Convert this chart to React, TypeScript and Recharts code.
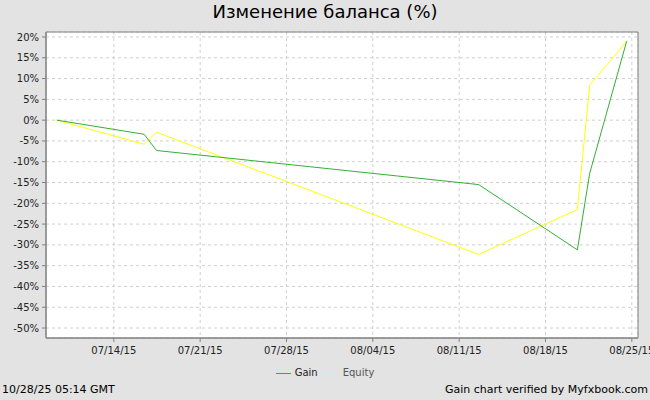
import { LineChart, Line, XAxis, YAxis, CartesianGrid, ReferenceArea } from "recharts";

const dates = [
  "2015-07-09T09:00:00Z",
  "2015-07-16T11:00:00Z",
  "2015-07-17T11:00:00Z",
  "2015-08-12T14:00:00Z",
  "2015-08-20T14:00:00Z",
  "2015-08-21T14:00:00Z",
  "2015-08-24T14:00:00Z",
];
const gain = [0, -3.4, -7.3, -15.5, -31.2, -12.8, 19];
const equity = [0, -5.8, -2.9, -32.3, -21.5, 8.4, 19];

const xTickDates = [
  "2015-07-14T00:00:00Z",
  "2015-07-21T00:00:00Z",
  "2015-07-28T00:00:00Z",
  "2015-08-04T00:00:00Z",
  "2015-08-11T00:00:00Z",
  "2015-08-18T00:00:00Z",
  "2015-08-25T00:00:00Z",
];
const yTicks = [-50, -45, -40, -35, -30, -25, -20, -15, -10, -5, 0, 5, 10, 15, 20];

const xMin = Date.parse("2015-07-08T12:00:00Z");
const xMax = Date.parse("2015-08-25T12:00:00Z");
const yMin = -52.4;
const yMax = 21.2;

const data = dates.map((d, i) => ({ t: Date.parse(d), gain: gain[i], equity: equity[i] }));
const xTicks = xTickDates.map((d) => Date.parse(d));

const font = "'DejaVu Sans', sans-serif";
const green = "#33b033";
const yellow = "#ffff00";

function fmtDate(v: number) {
  const d = new Date(v);
  const mm = String(d.getUTCMonth() + 1).padStart(2, "0");
  const dd = String(d.getUTCDate()).padStart(2, "0");
  const yy = String(d.getUTCFullYear() % 100).padStart(2, "0");
  return `${mm}/${dd}/${yy}`;
}

export default function App() {
  return (
    <div
      style={{
        position: "fixed",
        left: 0,
        top: 0,
        width: 650,
        height: 400,
        background: "#e3e3e3",
        fontFamily: font,
        overflow: "hidden",
      }}
    >
      <div
        style={{
          position: "absolute",
          top: 0,
          left: 0,
          width: 650,
          textAlign: "center",
          fontSize: 18,
          lineHeight: "24px",
          color: "#000",
        }}
      >
        Изменение баланса (%)
      </div>

      <LineChart width={650} height={400} data={data} margin={{ top: 32, right: 12, bottom: 32, left: 0 }}>
        <CartesianGrid fill="#ffffff" stroke="#cfcfcf" strokeDasharray="3 3" />
        <ReferenceArea
          x1={xMin}
          x2={xMax}
          y1={yMin}
          y2={yMax}
          fill="none"
          stroke="#808080"
          strokeWidth={1}
          ifOverflow="visible"
        />
        <XAxis
          dataKey="t"
          type="number"
          domain={[xMin, xMax]}
          ticks={xTicks}
          interval={0}
          allowDataOverflow
          tickFormatter={fmtDate}
          tick={{ fontSize: 10, fill: "#222", fontFamily: font, dy: 3 }}
          stroke="#808080"
          tickSize={4}
          height={30}
        />
        <YAxis
          type="number"
          domain={[yMin, yMax]}
          ticks={yTicks}
          interval={0}
          allowDataOverflow
          tickFormatter={(v) => `${v}%`}
          tick={{ fontSize: 10, fill: "#222", fontFamily: font, dx: -1 }}
          stroke="#808080"
          tickSize={4}
          width={46}
        />
        <Line type="linear" dataKey="equity" stroke={yellow} strokeWidth={1} dot={false} isAnimationActive={false} />
        <Line type="linear" dataKey="gain" stroke={green} strokeWidth={1} dot={false} isAnimationActive={false} />
      </LineChart>

      <div
        style={{
          position: "absolute",
          top: 366,
          left: 0,
          width: 650,
          display: "flex",
          justifyContent: "center",
          alignItems: "center",
          fontSize: 10,
          lineHeight: "14px",
        }}
      >
        <span style={{ display: "inline-block", width: 15, height: 1, background: green, marginRight: 4 }} />
        <span style={{ color: "#222", marginRight: 6 }}>Gain</span>
        <span style={{ display: "inline-block", width: 15, height: 1, background: yellow, marginRight: 4 }} />
        <span style={{ color: "#555" }}>Equity</span>
      </div>

      <div style={{ position: "absolute", left: 2, top: 382, fontSize: 11, lineHeight: "16px", color: "#000" }}>
        10/28/25 05:14 GMT
      </div>
      <div style={{ position: "absolute", right: 2, top: 382, fontSize: 11, lineHeight: "16px", color: "#000" }}>
        Gain chart verified by Myfxbook.com
      </div>
    </div>
  );
}
